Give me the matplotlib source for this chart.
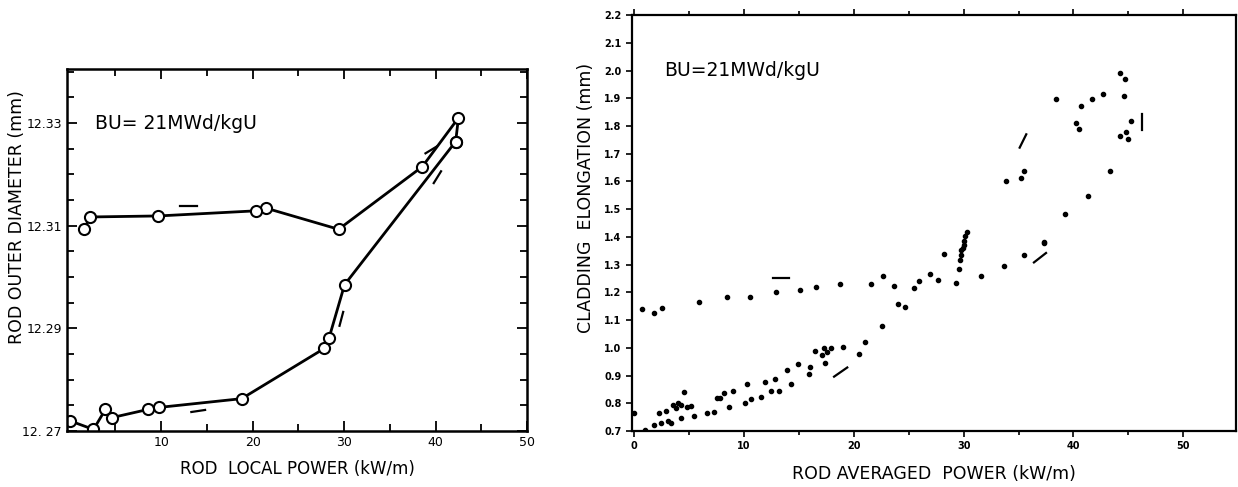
import numpy as np
import matplotlib
matplotlib.use("Agg")
import matplotlib.pyplot as plt
from matplotlib.ticker import MultipleLocator, FixedLocator

plt.rcParams['font.family'] = ['DejaVu Sans']

# Left panel: rod outer diameter vs local power
heat_power = [0.0, 2.6, 3.9, 4.6, 8.55, 9.8, 18.8, 27.85, 28.35, 30.05, 42.2]
heat_diam = [12.2720, 12.2703, 12.2742, 12.2726, 12.2742, 12.2746, 12.2763,
             12.2861, 12.2881, 12.2985, 12.3264]
cool_power = [42.2, 42.5, 38.55, 29.4, 21.5, 20.4, 9.7, 2.27, 1.52]
cool_diam = [12.3264, 12.3310, 12.3215, 12.3093, 12.3134, 12.3129, 12.3119,
             12.3117, 12.3093]
# direction dashes (x0, x1, y0, y1)
left_dashes = [
    (12.1, 13.9, 12.3139, 12.3139),
    (13.3, 14.8, 12.2737, 12.2741),
    (29.5, 29.9, 12.2905, 12.2932),
    (38.9, 40.1, 12.3241, 12.3254),
    (39.8, 40.6, 12.3183, 12.3206),
]

# Right panel: cladding elongation vs averaged power
upper_power = [0.7, 1.84, 2.54, 5.87, 8.49, 10.56, 12.9, 15.06, 16.6, 18.78,
               21.56, 22.7, 23.67, 25.5, 25.9, 26.9, 27.7, 28.17, 29.26, 29.54,
               29.66, 29.73, 29.8, 29.93, 30.0, 30.05, 30.1, 30.3,
               31.6, 33.65, 35.5, 37.36]
upper_elong = [1.141, 1.125, 1.143, 1.164, 1.182, 1.182, 1.201, 1.210, 1.219, 1.230,
               1.230, 1.258, 1.222, 1.216, 1.240, 1.266, 1.243, 1.340, 1.234, 1.284,
               1.318, 1.336, 1.351, 1.360, 1.371, 1.384, 1.402, 1.417,
               1.258, 1.294, 1.336, 1.378]
lower_power = [0.0, 0.98, 1.76, 2.23, 2.43, 2.93, 3.05, 3.33, 3.52, 3.83, 4.0,
               4.3, 4.3, 4.5, 4.77, 5.16, 5.48, 6.65, 7.24, 7.5, 7.8, 8.2, 8.6,
               8.99, 10.1, 10.25, 10.64, 11.54, 11.93, 12.5, 12.83, 13.22, 13.93,
               14.28, 14.95, 15.96, 16.04, 16.43, 17.14, 17.3, 17.4, 17.6, 17.9,
               18.97, 20.46, 21.0, 22.6, 24.06, 24.65]
lower_elong = [0.766, 0.704, 0.722, 0.764, 0.728, 0.773, 0.737, 0.728, 0.792, 0.782, 0.800,
               0.748, 0.792, 0.842, 0.788, 0.790, 0.754, 0.764, 0.770, 0.818, 0.818, 0.836, 0.788,
               0.846, 0.800, 0.869, 0.814, 0.824, 0.875, 0.846, 0.887, 0.846, 0.920,
               0.870, 0.941, 0.906, 0.930, 0.987, 0.975, 0.999, 0.947, 0.984, 1.000,
               1.002, 0.978, 1.020, 1.077, 1.159, 1.147]
high_power = [33.84, 35.2, 35.5, 37.36, 38.4, 39.2, 40.2, 40.5, 40.7, 41.3, 41.67,
              42.7, 43.35, 44.2, 44.7, 44.6, 44.2, 44.8, 45.0, 45.2]
high_elong = [1.603, 1.613, 1.639, 1.382, 1.898, 1.484, 1.812, 1.790, 1.872, 1.549, 1.896,
              1.916, 1.639, 1.991, 1.971, 1.907, 1.764, 1.779, 1.752, 1.818]
right_dashes = [
    (12.6, 14.1, 1.252, 1.252),
    (18.2, 19.4, 0.896, 0.929),
    (36.4, 37.5, 1.308, 1.342),
    (35.1, 35.7, 1.722, 1.770),
    (46.2, 46.2, 1.786, 1.842),
]

fig = plt.figure(figsize=(12.38, 4.87), dpi=100)
ax1 = fig.add_axes([0.0541, 0.115, 0.3716, 0.743])
ax2 = fig.add_axes([0.5105, 0.115, 0.4879, 0.854])

# ---- left panel
ax1.plot(heat_power, heat_diam, '-o', color='black', lw=2.0, ms=8,
         mfc='white', mec='black', mew=1.5)
ax1.plot(cool_power, cool_diam, '-o', color='black', lw=2.0, ms=8,
         mfc='white', mec='black', mew=1.5)
for x0, x1, y0, y1 in left_dashes:
    ax1.plot([x0, x1], [y0, y1], color='black', lw=1.6)

ax1.set_xlim(-0.3, 50)
ax1.set_ylim(12.27, 12.3405)
ax1.xaxis.set_major_locator(FixedLocator([10, 20, 30, 40, 50]))
ax1.xaxis.set_minor_locator(FixedLocator([5, 15, 25, 35, 45]))
ax1.yaxis.set_major_locator(FixedLocator([12.27, 12.29, 12.31, 12.33]))
ax1.yaxis.set_minor_locator(MultipleLocator(0.005))
ax1.set_yticklabels(['12. 27', '12.29', '12.31', '12.33'])
ax1.tick_params(which='both', direction='in', top=True, right=True, width=1.3)
ax1.tick_params(which='major', length=7, labelsize=9)
ax1.tick_params(which='minor', length=5)
for s in ax1.spines.values():
    s.set_linewidth(1.8)
ax1.set_xlabel('ROD  LOCAL POWER (kW/m)', fontsize=12, labelpad=8)
ax1.set_ylabel('ROD OUTER DIAMETER (mm)', fontsize=12.5)
ax1.yaxis.set_label_coords(-0.088, 0.59)
ax1.text(2.8, 12.33, 'BU= 21MWd/kgU', fontsize=13.5, va='center', ha='left')

# ---- right panel
ax2.plot(upper_power, upper_elong, 'o', color='black', ms=3)
ax2.plot(lower_power, lower_elong, 'o', color='black', ms=3)
ax2.plot(high_power, high_elong, 'o', color='black', ms=3)
for x0, x1, y0, y1 in right_dashes:
    ax2.plot([x0, x1], [y0, y1], color='black', lw=1.6)

ax2.set_xlim(-0.2, 54.8)
ax2.set_ylim(0.7, 2.2)
ax2.xaxis.set_major_locator(MultipleLocator(10))
ax2.xaxis.set_minor_locator(MultipleLocator(5))
ax2.yaxis.set_major_locator(MultipleLocator(0.1))
ax2.set_yticklabels([f'{v:.1f}' for v in ax2.get_yticks()])
ax2.tick_params(which='both', direction='out', top=True, width=1.2)
ax2.tick_params(which='major', length=4, labelsize=7)
ax2.tick_params(which='minor', length=3)
for lab in ax2.get_xticklabels() + ax2.get_yticklabels():
    lab.set_fontweight('bold')
for s in ax2.spines.values():
    s.set_linewidth(1.6)
ax2.set_xlabel('ROD AVERAGED  POWER (kW/m)', fontsize=12.5, labelpad=10)
ax2.set_ylabel('CLADDING  ELONGATION (mm)', fontsize=12.5)
ax2.yaxis.set_label_coords(-0.062, 0.56)
ax2.text(2.7, 2.0, 'BU=21MWd/kgU', fontsize=13.5, va='center', ha='left')

fig.savefig('out.png', dpi=100)
